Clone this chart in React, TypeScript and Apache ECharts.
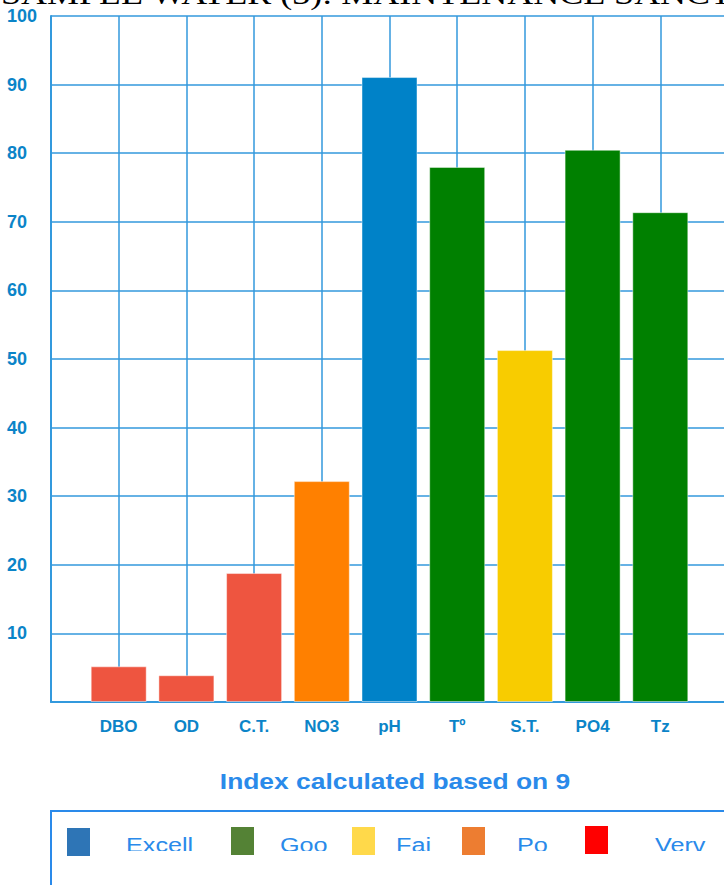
import React, { useEffect, useRef } from "react";
import * as echarts from "echarts";

const categories = ["DBO", "OD", "C.T.", "NO3", "pH", "Tº", "S.T.", "PO4", "Tz"];
const values = [5.2, 3.9, 18.8, 32.2, 91.1, 78.0, 51.3, 80.5, 71.4];
const barColors = ["#EE5540", "#EE5540", "#EE5540", "#FF8000", "#0082C8", "#008000", "#F8CC00", "#008000", "#008000"];
const yTicks = [0, 10, 20, 30, 40, 50, 60, 70, 80, 90, 100];
const legendLabels = ["Excell", "Goo", "Fai", "Po", "Verv"];
const legendColors = ["#2E75B6", "#548235", "#FFD94A", "#ED7D31", "#FF0000"];
const titleText = "SAMPLE WATER (3): MAINTENANCE SANCTUARY";
const subtitleText = "Index calculated based on 9";

const GRID = "#3399DD";
const LABEL = "#0B84C8";
const BLUE_TEXT = "#2A8AEA";

export default function App() {
  const ref = useRef<HTMLDivElement>(null);
  useEffect(() => {
    if (!ref.current) return;
    document.body.style.overflow = "hidden";
    const chart = echarts.init(ref.current, null, { renderer: "svg" });
    const cats = ["", ...categories, ""];
    const data: any[] = [null, ...values.map((v, i) => ({ value: v, itemStyle: { color: barColors[i] } })), null];

    const squareX = [67, 231, 352, 462, 585];
    const squareY = [828, 827, 827, 827, 826];
    const textX = [126, 280, 396, 517, 655];
    const textW = [72, 52, 40, 34, 60];
    const graphic: any[] = [
      {
        type: "text",
        x: 1,
        y: -6,
        scaleX: 1.2,
        z: 10,
        style: {
          text: titleText,
          fontFamily: "Liberation Serif, Times New Roman, serif",
          fontSize: 30,
          fill: "#000",
          textAlign: "left",
          textVerticalAlign: "middle",
        },
      },
      {
        type: "text",
        x: 395,
        y: 781,
        scaleX: 1.2,
        style: {
          text: subtitleText,
          fontFamily: "Liberation Sans, Arial, sans-serif",
          fontWeight: "bold",
          fontSize: 22,
          fill: BLUE_TEXT,
          textAlign: "center",
          textVerticalAlign: "middle",
        },
      },
      {
        type: "rect",
        shape: { x: 51, y: 811, width: 720, height: 120 },
        style: { fill: "none", stroke: BLUE_TEXT, lineWidth: 2 },
      },
    ];
    legendLabels.forEach((lab, i) => {
      graphic.push({
        type: "rect",
        z: 8,
        shape: { x: squareX[i], y: squareY[i], width: 23, height: 28 },
        style: { fill: legendColors[i] },
      });
      graphic.push({
        type: "text",
        x: textX[i],
        y: 845,
        scaleX: 1.2,
        z: 5,
        style: {
          text: lab,
          fontFamily: "Liberation Sans, Arial, sans-serif",
          fontSize: 21,
          fill: BLUE_TEXT,
          textAlign: "left",
          textVerticalAlign: "middle",
        },
      });
      graphic.push({
        type: "rect",
        z: 6,
        shape: { x: textX[i] - 2, y: 851, width: textW[i], height: 20 },
        style: { fill: "#fff" },
      });
    });

    chart.setOption({
      animation: false,
      grid: { left: 51, top: 16, right: 12, bottom: 183, containLabel: false },
      xAxis: {
        type: "category",
        data: cats,
        boundaryGap: false,
        axisLine: { show: true, lineStyle: { color: GRID, width: 2 } },
        axisTick: { show: false },
        splitLine: { show: true, lineStyle: { color: GRID, width: 1.5 } },
        axisLabel: {
          color: LABEL,
          fontWeight: "bold",
          fontSize: 17,
          fontFamily: "Liberation Sans, Arial, sans-serif",
          margin: 16,
          interval: 0,
        },
      },
      yAxis: {
        type: "value",
        min: yTicks[0],
        max: yTicks[yTicks.length - 1],
        interval: 10,
        axisLine: { show: true, lineStyle: { color: GRID, width: 2 } },
        axisTick: { show: false },
        splitLine: { show: true, lineStyle: { color: GRID, width: 1.5 } },
        axisLabel: {
          color: LABEL,
          fontWeight: "bold",
          fontSize: 18,
          fontFamily: "Liberation Sans, Arial, sans-serif",
          align: "left",
          margin: 44,
          formatter: (v: number) => (v === 0 ? "" : String(v)),
        },
      },
      series: [
        {
          type: "bar",
          data,
          barWidth: 56,
          itemStyle: { borderColor: "rgba(255,255,255,0.45)", borderWidth: 1 },
        },
      ],
      graphic,
    });
    return () => chart.dispose();
  }, []);
  return (
    <div
      ref={ref}
      style={{ position: "fixed", left: 0, top: 0, width: 740, height: 885, background: "#fff" }}
    />
  );
}
